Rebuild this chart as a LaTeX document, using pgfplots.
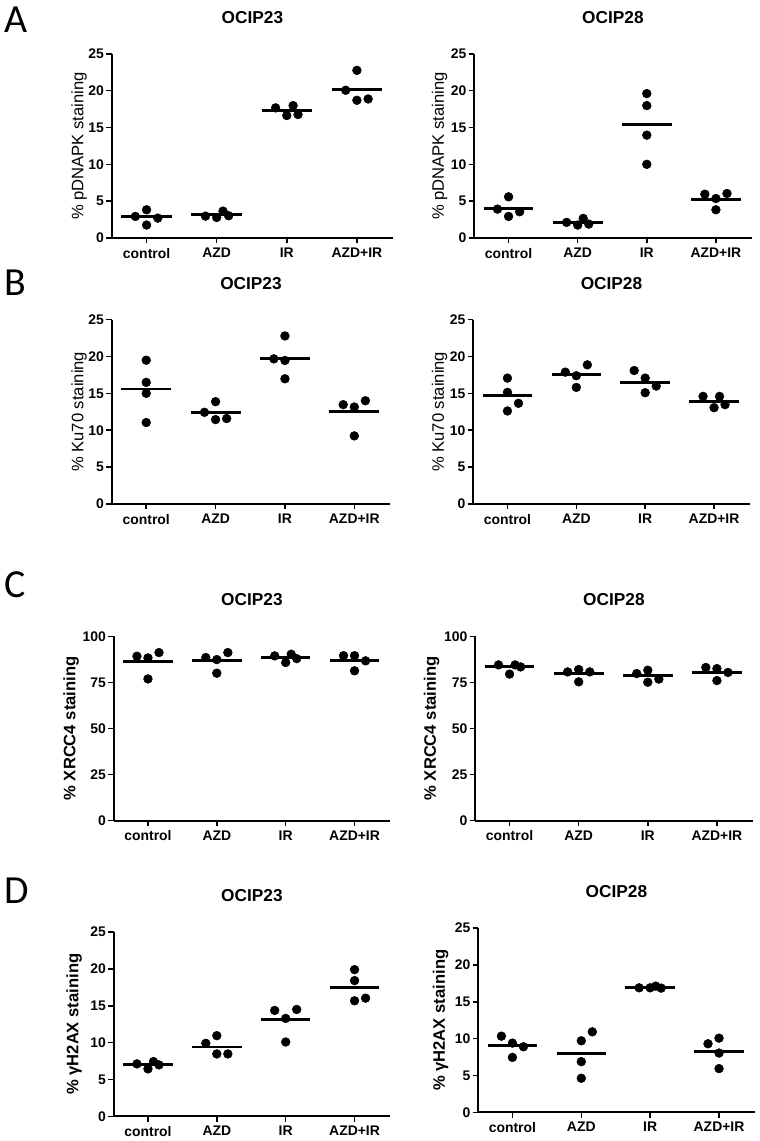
\documentclass[border=0pt]{standalone}
\usepackage{fontspec}
\setmainfont{Liberation Sans}
\newfontfamily\letterfont{Carlito}
\usepackage{pgfplots}
\pgfplotsset{compat=1.18}
\pgfplotsset{
  panel/.style={
    scale only axis,
    height=138.75pt,
    xmin=-0.5, xmax=3.52,
    ymin=0,
    axis lines=left,
    axis line style={-, line width=1.5pt},
    tick align=outside,
    major tick length=4pt,
    tick style={line width=1.2pt, black},
    xtick={0,1,2,3},
    xticklabels={control,AZD,IR,AZD+IR},
    /pgf/number format/assume math mode=true,
    ticklabel style={font=\bfseries\fontsize{10.5}{12}\selectfont},
    yticklabel style={inner sep=1.5pt},
    title style={at={(0.5,1)}, anchor=base, yshift=17pt, font=\bfseries\fontsize{13}{15}\selectfont},
    ylabel style={font=\fontsize{12.5}{14}\selectfont, anchor=center},
    clip=false,
    unbounded coords=jump,
  },
  ylpos/.style={ylabel style={at={(axis description cs:#1,0.5)}}},
  dots/.style={only marks, mark=*, mark size=3.3pt, black},
  means/.style={black, line width=2.2pt, mark=none},
}
\begin{document}
\begin{tikzpicture}
\path (0,0) rectangle (572.25pt,-855.75pt);
% panel letters
\node[anchor=base west, inner sep=0pt, font=\letterfont\fontsize{30}{31}\selectfont] at (3pt,-24.75pt) {A};
\node[anchor=base west, inner sep=0pt, font=\letterfont\fontsize{30}{31}\selectfont] at (3pt,-222.75pt) {B};
\node[anchor=base west, inner sep=0pt, font=\letterfont\fontsize{30}{31}\selectfont] at (3pt,-450pt) {C};
\node[anchor=base west, inner sep=0pt, font=\letterfont\fontsize{30}{31}\selectfont] at (3pt,-680.25pt) {D};

% A left
\begin{axis}[panel, at={(84pt,-179.25pt)}, anchor=south west, width=212.25pt, ylpos=-0.115,
  ymax=25, ytick={0,5,...,25}, title={OCIP23}, ylabel={\% pDNAPK staining}]
\addplot[dots] coordinates {(-0.16,2.93) (0,3.83) (0,1.76) (0.16,2.70)
 (0.84,2.97) (1,2.79) (1.09,3.65) (1.17,3.02)
 (1.84,17.66) (2,16.62) (2.09,17.97) (2.16,16.76)
 (3,22.75) (2.84,20.05) (3,18.69) (3.16,18.87)};
\addplot[means] coordinates {(-0.36,2.93) (0.36,2.93) (0.5,nan) (0.64,3.15) (1.36,3.15) (1.5,nan)
 (1.64,17.25) (2.36,17.25) (2.5,nan) (2.64,20.14) (3.36,20.14)};
\end{axis}

% A right
\begin{axis}[panel, at={(357pt,-179.25pt)}, anchor=south west, width=209.25pt, ylpos=-0.124,
  ymax=25, ytick={0,5,...,25}, title={OCIP28}, ylabel={\% pDNAPK staining}]
\addplot[dots] coordinates {(-0.16,3.92) (0,5.59) (0,2.93) (0.16,3.56)
 (0.84,2.12) (1,1.76) (1.08,2.66) (1.16,1.89)
 (2,19.6) (2,17.97) (2,13.96) (2,10.0)
 (2.84,5.95) (3,5.36) (3.16,6.04) (3,3.83)};
\addplot[means] coordinates {(-0.36,4.0) (0.36,4.0) (0.5,nan) (0.64,2.1) (1.36,2.1) (1.5,nan)
 (1.64,15.36) (2.36,15.36) (2.5,nan) (2.64,5.27) (3.36,5.27)};
\end{axis}

% B left
\begin{axis}[panel, at={(84pt,-379.5pt)}, anchor=south west, width=210pt, ylpos=-0.116,
  ymax=25, ytick={0,5,...,25}, title={OCIP23}, ylabel={\% Ku70 staining}]
\addplot[dots] coordinates {(0,19.5) (0,16.49) (0,15.0) (0,11.04)
 (0.84,12.43) (1,13.87) (1,11.44) (1.16,11.58)
 (2,22.79) (1.84,19.68) (2,19.46) (2,16.98)
 (2.84,13.47) (3,13.15) (3.16,14.0) (3,9.23)};
\addplot[means] coordinates {(-0.36,15.59) (0.36,15.59) (0.5,nan) (0.64,12.39) (1.36,12.39) (1.5,nan)
 (1.64,19.77) (2.36,19.77) (2.5,nan) (2.64,12.48) (3.36,12.48)};
\end{axis}

% B right
\begin{axis}[panel, at={(356.25pt,-379.5pt)}, anchor=south west, width=208.5pt, ylpos=-0.121,
  ymax=25, ytick={0,5,...,25}, title={OCIP28}, ylabel={\% Ku70 staining}]
\addplot[dots] coordinates {(0,17.07) (0,15.14) (0.16,13.65) (0,12.61)
 (0.84,17.88) (1,17.39) (1.16,18.87) (1,15.81)
 (1.84,18.1) (2,17.07) (2.16,15.99) (2,15.09)
 (2.84,14.59) (3,13.06) (3.08,14.59) (3.16,13.47)};
\addplot[means] coordinates {(-0.36,14.73) (0.36,14.73) (0.5,nan) (0.64,17.52) (1.36,17.52) (1.5,nan)
 (1.64,16.53) (2.36,16.53) (2.5,nan) (2.64,13.92) (3.36,13.92)};
\end{axis}

% C left
\begin{axis}[panel, at={(85.5pt,-618pt)}, anchor=south west, width=208.5pt, ylpos=-0.153,
  ymax=100, ytick={0,25,...,100}, title={OCIP23}, ylabel={\bfseries\% XRCC4 staining}]
\addplot[dots] coordinates {(-0.16,89.2) (0,88.3) (0.16,91.2) (0,76.9)
 (0.84,88.5) (1,87.4) (1.16,91.2) (1,80.0)
 (1.84,89.4) (2,85.8) (2.08,90.3) (2.16,87.9)
 (2.84,89.5) (3,89.5) (3.16,86.7) (3,81.3)};
\addplot[means] coordinates {(-0.36,86.1) (0.36,86.1) (0.5,nan) (0.64,87.0) (1.36,87.0) (1.5,nan)
 (1.64,88.5) (2.36,88.5) (2.5,nan) (2.64,87.0) (3.36,87.0)};
\end{axis}

% C right
\begin{axis}[panel, at={(357.75pt,-618pt)}, anchor=south west, width=209.25pt, ylpos=-0.156,
  ymax=100, ytick={0,25,...,100}, title={OCIP28}, ylabel={\bfseries\% XRCC4 staining}]
\addplot[dots] coordinates {(-0.16,84.5) (0,79.5) (0.08,84.5) (0.16,83.4)
 (0.84,80.7) (1,82.0) (1.16,80.7) (1,75.3)
 (1.84,79.8) (2,81.6) (2.16,76.8) (2,75.1)
 (2.84,83.1) (3,82.5) (3.16,80.4) (3,76.0)};
\addplot[means] coordinates {(-0.36,83.4) (0.36,83.4) (0.5,nan) (0.64,79.6) (1.36,79.6) (1.5,nan)
 (1.64,78.6) (2.36,78.6) (2.5,nan) (2.64,80.5) (3.36,80.5)};
\end{axis}

% D left
\begin{axis}[panel, at={(85.5pt,-840.75pt)}, anchor=south west, width=208.5pt, ylpos=-0.142,
  ymax=25, ytick={0,5,...,25}, title={OCIP23}, ylabel={\bfseries\% γH2AX staining}]
\addplot[dots] coordinates {(-0.16,7.12) (0,6.44) (0.08,7.43) (0.16,6.98)
 (0.84,9.91) (1,10.95) (1,8.47) (1.16,8.47)
 (1.84,14.37) (2,13.29) (2.16,14.5) (2,10.09)
 (3,19.91) (3,18.42) (3,15.68) (3.16,16.04)};
\addplot[means] coordinates {(-0.36,7.07) (0.36,7.07) (0.5,nan) (0.64,9.41) (1.36,9.41) (1.5,nan)
 (1.64,13.2) (2.36,13.2) (2.5,nan) (2.64,17.52) (3.36,17.52)};
\end{axis}

% D right
\begin{axis}[panel, at={(360pt,-837.75pt)}, anchor=south west, width=208.5pt, ylpos=-0.135,
  ymax=25, ytick={0,5,...,25}, title={OCIP28}, ylabel={\bfseries\% γH2AX staining}]
\addplot[dots] coordinates {(-0.16,10.34) (0,9.4) (0.16,8.9) (0,7.46)
 (1,9.71) (1.16,10.93) (1,6.88) (1,4.63)
 (1.84,16.9) (2,16.9) (2.08,17.13) (2.16,16.86)
 (2.84,9.31) (3,10.07) (3,8.05) (3,5.94)};
\addplot[means] coordinates {(-0.36,9.13) (0.36,9.13) (0.5,nan) (0.64,8.05) (1.36,8.05) (1.5,nan)
 (1.64,16.9) (2.36,16.9) (2.5,nan) (2.64,8.32) (3.36,8.32)};
\end{axis}
\end{tikzpicture}
\end{document}
